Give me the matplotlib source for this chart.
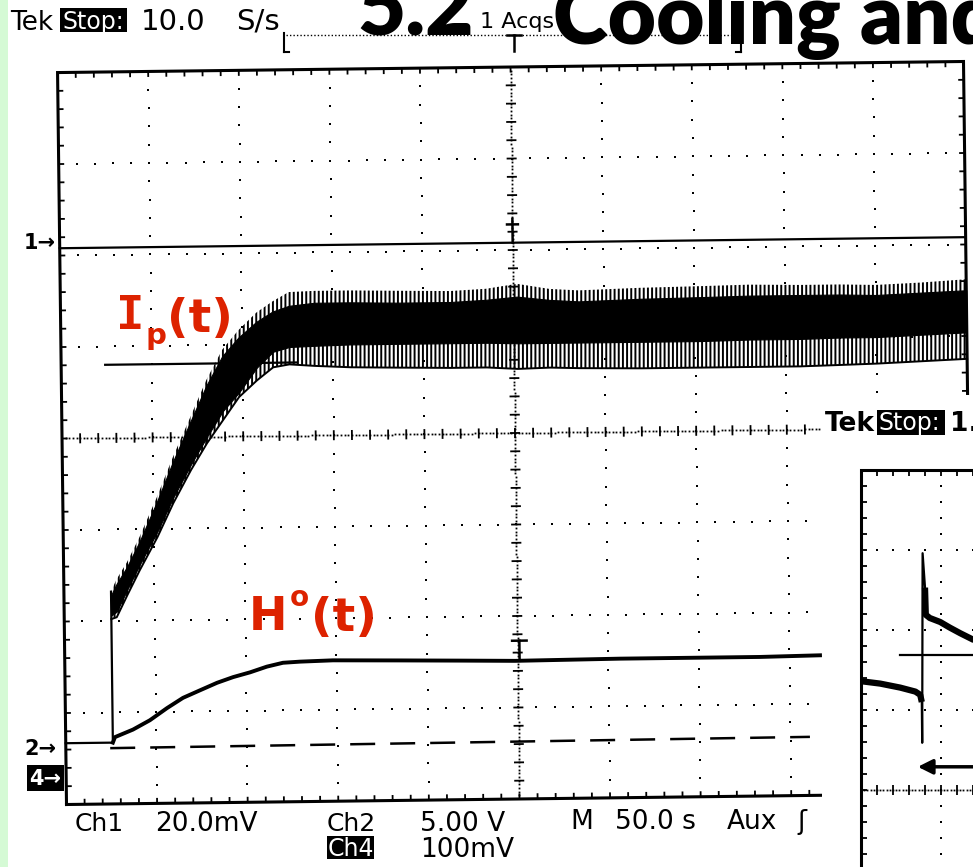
import numpy as np
import matplotlib
matplotlib.use("Agg")
import matplotlib.pyplot as plt
from matplotlib.transforms import Affine2D
from matplotlib.patches import Rectangle
from matplotlib.collections import LineCollection

W, H = 973, 867

# ---------------- data (main scope: time in s at 50 s/div, amplitude in divisions) ----------------
t_band = [26, 29, 35, 42, 52, 61, 71, 80, 89, 98, 108, 117, 126, 140, 160, 186, 215, 235,
          252, 270, 286, 320, 353, 380, 408, 430, 450, 475, 500]
ip_upper = [-1.68, -1.55, -1.36, -1.09, -0.65, -0.22, 0.22, 0.62, 0.95, 1.16, 1.35, 1.47, 1.57,
            1.58, 1.58, 1.57, 1.56, 1.58, 1.63, 1.57, 1.55, 1.57, 1.58, 1.59, 1.58, 1.58, 1.57,
            1.59, 1.62]
ip_lower = [-1.98, -1.96, -1.72, -1.45, -1.09, -0.72, -0.36, -0.07, 0.18, 0.43, 0.61, 0.75, 0.78,
            0.76, 0.74, 0.73, 0.72, 0.72, 0.70, 0.71, 0.70, 0.69, 0.69, 0.69, 0.69, 0.70, 0.71,
            0.73, 0.75]
ip_core_hi = [-1.72, -1.60, -1.41, -1.14, -0.70, -0.27, 0.17, 0.56, 0.88, 1.08, 1.25, 1.36, 1.42,
              1.45, 1.45, 1.44, 1.44, 1.46, 1.49, 1.45, 1.43, 1.45, 1.46, 1.47, 1.47, 1.47, 1.46,
              1.48, 1.50]
ip_core_lo = [-1.94, -1.90, -1.66, -1.39, -1.03, -0.66, -0.30, 0.00, 0.28, 0.48, 0.75, 0.92, 0.97,
              0.98, 0.99, 0.99, 0.99, 0.99, 0.98, 0.98, 0.98, 0.98, 0.98, 0.99, 0.99, 1.00, 1.00,
              1.02, 1.04]

base_t = [0, 26]
base_v = [-3.33, -3.33]
step_t = [26, 26]
step_v = [-3.33, -1.68]

ch1_t = [0, 500]
ch1_v = [2.08, 2.08]
ref_t = [24.3, 130]
ref_v = [0.80, 0.80]

h0_t = [26, 27.2, 37.2, 46.6, 56.1, 65.0, 74.4, 83.9, 92.8, 102.2, 111.5, 120.4, 129.8, 148,
        185, 218, 248.5, 306.5, 350.6, 383.7, 416.8]
h0_v = [-3.33, -3.27, -3.19, -3.09, -2.96, -2.85, -2.77, -2.69, -2.63, -2.58, -2.52, -2.48,
        -2.47, -2.46, -2.47, -2.48, -2.49, -2.48, -2.48, -2.48, -2.47]

dash_t = [24.5, 410.7]
dash_v = [-3.39, -3.36]

# inset scope (divisions)
ins_left_x = [0.0, 0.24, 0.49, 0.68, 0.74, 0.76]
ins_left_y = [1.36, 1.33, 1.28, 1.23, 1.19, 1.10]
ins_spike_x = [0.76, 0.765, 0.77, 0.80]
ins_spike_y = [1.10, 0.59, 2.96, 2.53]
ins_right_x = [0.80, 0.81, 0.86, 0.99, 1.11, 1.24, 1.42]
ins_right_y = [2.53, 2.19, 2.15, 2.10, 2.03, 1.96, 1.87]
ins_hline_x = [0.49, 3.0]
ins_hline_y = [1.69, 1.69]
ins_arrow_x = [0.71, 3.0]
ins_arrow_y = [0.29, 0.29]

RED = "#dd2200"
SCOPE_FONT = ["DejaVu Sans"]

fig = plt.figure(figsize=(W / 100, H / 100), dpi=100)
fig.patch.set_facecolor("white")


def graticule(ax, tr, xr, yr, nx, ny, pxx, pxy, show_center_x=True):
    x0, x1 = xr
    y0, y1 = yr
    dx = (x1 - x0) / nx
    dy = (y1 - y0) / ny
    kw = dict(transform=tr, clip_on=False)
    ax.plot([x0, x1, x1, x0, x0], [y0, y0, y1, y1, y0], color="k", lw=2.2,
            solid_joinstyle="miter", **kw)
    xc = x0 + nx / 2 * dx
    yc = y0 + ny / 2 * dy
    for i in range(1, nx):
        if i == nx // 2:
            continue
        xs = x0 + i * dx
        ys = y0 + np.arange(1, 5 * ny) * dy / 5
        ax.plot(np.full_like(ys, xs), ys, ls="none", marker="s", ms=1.7, color="k", mew=0, **kw)
    for j in range(1, ny):
        if j == ny // 2:
            continue
        ys = y0 + j * dy
        xs = x0 + np.arange(1, 5 * nx) * dx / 5
        ax.plot(xs, np.full_like(xs, ys), ls="none", marker="s", ms=1.7, color="k", mew=0, **kw)
    segs = []
    tx = 5 / pxx
    ty = 5 / pxy
    if show_center_x:
        ys = y0 + np.arange(1, 25 * ny) * dy / 25
        ax.plot(np.full_like(ys, xc), ys, ls="none", marker="s", ms=1.3, color="k", mew=0, **kw)
        for k in range(1, 5 * ny):
            yy = y0 + k * dy / 5
            segs.append([(xc - tx, yy), (xc + tx, yy)])
    xs = x0 + np.arange(1, 25 * nx) * dx / 25
    ax.plot(xs, np.full_like(xs, yc), ls="none", marker="s", ms=1.3, color="k", mew=0, **kw)
    for k in range(1, 5 * nx):
        xx = x0 + k * dx / 5
        segs.append([(xx, yc - ty), (xx, yc + ty)])
    for k in range(1, 5 * nx):
        xx = x0 + k * dx / 5
        segs.append([(xx, y1), (xx, y1 - ty * 1.1)])
        segs.append([(xx, y0), (xx, y0 + ty * 1.1)])
    for k in range(1, 5 * ny):
        yy = y0 + k * dy / 5
        segs.append([(x0, yy), (x0 + tx * 1.1, yy)])
        segs.append([(x1, yy), (x1 - tx * 1.1, yy)])
    lc = LineCollection(segs, colors="k", linewidths=1.3, transform=tr, clip_on=False)
    ax.add_collection(lc)


# ---------------- main scope axes (rotated slightly like the scan) ----------------
ax = fig.add_axes([62 / W, 1 - 799 / H, 906 / W, 732 / H])
ax.set_xlim(0, 500)
ax.set_ylim(-4, 4)
ax.axis("off")
fig.canvas.draw()
rot = Affine2D().rotate_deg_around(515, H - 433, 0.7)
tr = ax.transData + rot
kw = dict(transform=tr, clip_on=False)

graticule(ax, tr, (0, 500), (-4, 4), 10, 8, 906 / 500, 91.5)

plt.rcParams["hatch.linewidth"] = 1.4
ax.fill_between(t_band, ip_lower, ip_upper, facecolor="none", edgecolor="k", hatch="||||",
                linewidth=0, **kw)
ax.fill_between(t_band, ip_core_lo, ip_core_hi, facecolor="k", edgecolor="k", linewidth=0.8, **kw)
ax.plot(t_band, ip_lower, color="k", lw=1.4, **kw)
ax.plot(base_t, base_v, color="k", lw=1.6, **kw)
ax.plot(step_t, step_v, color="k", lw=1.6, **kw)
ax.plot(ch1_t, ch1_v, color="k", lw=1.6, **kw)
ax.plot(ref_t, ref_v, color="k", lw=1.6, **kw)
ax.plot(h0_t, h0_v, color="k", lw=2.8, **kw)
ax.plot(dash_t, dash_v, color="k", lw=1.8, dashes=(10, 6), **kw)
# trigger-point markers on the centre line
ax.plot([250, 250], [2.08, 2.34], color="k", lw=1.8, **kw)
ax.plot([247, 253], [2.28, 2.28], color="k", lw=1.8, **kw)
ax.plot([251, 251], [-2.49, -2.27], color="k", lw=1.8, **kw)
ax.plot([247, 255], [-2.27, -2.27], color="k", lw=1.8, **kw)

# ---------------- overlay (texts, cover of the second screenshot) ----------------
ov = fig.add_axes([0, 0, 1, 1])
ov.set_xlim(0, W)
ov.set_ylim(H, 0)
ov.axis("off")
ov.set_zorder(1)
ov.add_patch(Rectangle((0, 0), 8, H, color="#d5fad5", lw=0))
ov.add_patch(Rectangle((822, 395), W - 822, H - 395, color="white", lw=0))


def st(x, y, s, size=19, color="k", **k):
    ov.text(x, y, s, fontsize=size, color=color, family=SCOPE_FONT, va="baseline", ha="left", **k)


# header
st(10, 30, "Tek", 19)
ov.add_patch(Rectangle((60, 8), 67, 24, color="k", lw=0))
st(62, 29, "Stop:", 17, color="white")
st(141, 30, "10.0", 21)
st(236, 30, "S/s", 21)
# acquisition bracket
ov.plot([284, 284], [33, 52], color="k", lw=1.5)
ov.plot([284, 289], [52, 52], color="k", lw=1.5)
ov.plot([741, 741], [33, 52], color="k", lw=1.5)
ov.plot([736, 741], [52, 52], color="k", lw=1.5)
ov.plot([286, 740], [35, 35], color="k", lw=1.0, ls=(0, (1, 1.5)))
ov.plot([507, 521], [35, 35], color="k", lw=1.8)
ov.plot([514, 514], [35, 51], color="k", lw=1.8)
# slide title (cut by the top edge, as in the slide)
ov.text(357, 35, "5.2", fontsize=60, weight="heavy", family=["Lato", "DejaVu Sans"],
        va="baseline")
st(480, 28, "1 Acqs", 16)
ov.text(553, 44, "Cooling and S", fontsize=60, weight="heavy", family=["Lato", "DejaVu Sans"],
        va="baseline")

# channel markers
st(24, 249, "1\u2192", 15, weight="bold")
st(24, 755, "2\u2192", 15, weight="bold")
ov.add_patch(Rectangle((27, 765), 37, 26, color="k", lw=0))
st(29, 785, "4\u2192", 15, color="white", weight="bold")

# bottom readout
st(75, 831, "Ch1", 18)
st(155, 831, "20.0mV", 19)
st(327, 831, "Ch2", 18)
st(420, 831, "5.00 V", 19)
st(570, 829, "M", 19)
st(615, 829, "50.0 s", 19)
st(727, 829, "Aux", 19)
st(797, 829, "\u0283", 19)
ov.add_patch(Rectangle((327, 836), 47, 23, color="k", lw=0))
st(328, 856, "Ch4", 17, color="white")
st(420, 857, "100mV", 19)

# second screenshot header
st(825, 431, "Tek", 19, weight="bold")
ov.add_patch(Rectangle((877, 410), 68, 25, color="k", lw=0))
st(879, 430, "Stop:", 17, color="white")
st(950, 431, "1.", 19, weight="bold")

# red labels
ov.text(116, 329, "I", fontsize=34, weight="bold", color=RED, family="DejaVu Sans Mono",
        va="baseline")
ov.text(145, 344, "p", fontsize=21, weight="bold", color=RED, family="DejaVu Sans",
        va="baseline")
ov.text(167, 332, "(t)", fontsize=34, weight="bold", color=RED, family="DejaVu Sans",
        va="baseline")
ov.text(249, 630, "H", fontsize=33, weight="bold", color=RED, family="DejaVu Sans",
        va="baseline")
ov.text(290, 606, "o", fontsize=20, weight="bold", color=RED, family="DejaVu Sans",
        va="baseline")
ov.text(311, 631, "(t)", fontsize=34, weight="bold", color=RED, family="DejaVu Sans",
        va="baseline")

# ---------------- inset scope ----------------
ai = fig.add_axes([861 / W, (H - 1110) / H, 800 / W, 640 / H])
ai.set_xlim(0, 10)
ai.set_ylim(-4, 4)
ai.axis("off")
ai.set_zorder(2)
ikw = dict(transform=ai.transData, clip_on=False)
graticule(ai, ai.transData, (0, 10), (-4, 4), 10, 8, 80, 80, show_center_x=False)
ai.plot(ins_left_x, ins_left_y, color="k", lw=4.5, solid_capstyle="butt", **ikw)
ai.plot(ins_spike_x, ins_spike_y, color="k", lw=1.6, **ikw)
ai.plot(ins_right_x, ins_right_y, color="k", lw=4.5, solid_capstyle="butt", **ikw)
ai.plot(ins_hline_x, ins_hline_y, color="k", lw=1.6, **ikw)
ai.annotate("", xy=(ins_arrow_x[0], ins_arrow_y[0]), xytext=(ins_arrow_x[1], ins_arrow_y[1]),
            arrowprops=dict(arrowstyle="-|>", lw=2.5, color="k", mutation_scale=22,
                            shrinkA=0, shrinkB=0))

fig.savefig("out.png", dpi=100, facecolor="white")
